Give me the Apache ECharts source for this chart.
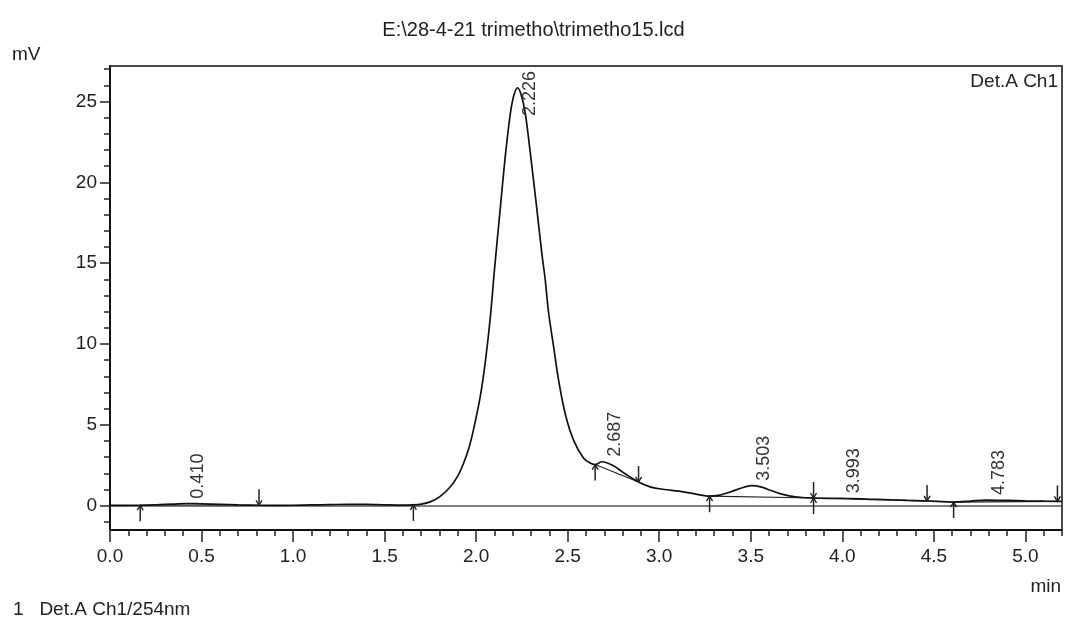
<!DOCTYPE html>
<html>
<head>
<meta charset="utf-8">
<title>trimetho15 chromatogram</title>
<script src="https://cdn.jsdelivr.net/npm/echarts@6/dist/echarts.min.js"></script>
<style>
  html, body { margin: 0; padding: 0; background: #ffffff; }
  #chart { width: 1067px; height: 620px; }
</style>
</head>
<body>
<div id="chart"></div>
<script>
// Detector trace: retention time (min) and signal (mV)
const retentionTime = [
  0.00, 0.10, 0.165, 0.25, 0.35, 0.41, 0.50, 0.60, 0.70, 0.814,
  0.90, 1.00, 1.10, 1.20, 1.30, 1.40, 1.50, 1.60, 1.657, 1.70,
  1.749, 1.80, 1.858, 1.90, 1.931, 1.96, 1.985, 2.022, 2.049, 2.077,
  2.10, 2.131, 2.158, 2.186, 2.205, 2.226, 2.245, 2.268, 2.295, 2.328,
  2.359, 2.377, 2.395, 2.423, 2.45, 2.486, 2.532, 2.586, 2.62, 2.65,
  2.687, 2.75, 2.80, 2.887, 2.95, 3.00, 3.133, 3.20, 3.275, 3.33,
  3.39, 3.45, 3.503, 3.56, 3.607, 3.66, 3.716, 3.78, 3.843, 3.93,
  3.993, 4.044, 4.15, 4.226, 4.35, 4.463, 4.608, 4.70, 4.783, 4.90,
  5.00, 5.10, 5.175, 5.20
];
const signalMv = [
  0.02, 0.02, 0.03, 0.06, 0.10, 0.13, 0.12, 0.09, 0.06, 0.03,
  0.02, 0.03, 0.05, 0.07, 0.09, 0.09, 0.06, 0.04, 0.05, 0.10,
  0.24, 0.55, 1.16, 1.85, 2.61, 3.55, 4.68, 6.74, 8.81, 11.6,
  14.6, 18.3, 21.5, 24.2, 25.35, 25.85, 25.45, 24.3, 21.9, 18.7,
  15.6, 14.0, 12.0, 9.84, 7.78, 5.71, 4.06, 2.95, 2.66, 2.55,
  2.72, 2.48, 2.08, 1.47, 1.17, 1.05, 0.86, 0.72, 0.59, 0.66,
  0.86, 1.10, 1.24, 1.15, 0.96, 0.75, 0.59, 0.51, 0.48, 0.46,
  0.46, 0.44, 0.40, 0.38, 0.33, 0.30, 0.23, 0.29, 0.35, 0.33,
  0.30, 0.28, 0.27, 0.27
];

// Integration results
const peakTimes = [0.410, 2.226, 2.687, 3.503, 3.993, 4.783];
const peakStartTimes = [0.165, 1.657, 2.65, 3.275, 3.843, 4.608];
const peakEndTimes = [0.814, 2.887, 3.843, 4.463, 5.175];
const baselineSegments = [
  [0.165, 0.814],
  [2.65, 2.887],
  [3.275, 3.843],
  [3.843, 4.463],
  [4.608, 5.175]
];

// Axis tick labels
const xTickLabels = ['0.0', '0.5', '1.0', '1.5', '2.0', '2.5', '3.0', '3.5', '4.0', '4.5', '5.0'];
const yTickLabels = ['0', '5', '10', '15', '20', '25'];

const FONT = "'Liberation Sans', Arial, Helvetica, sans-serif";
const INK = '#222222';

function signalAt(t) {
  for (let i = 0; i < retentionTime.length; i++) {
    if (Math.abs(retentionTime[i] - t) < 1e-6) return signalMv[i];
  }
  for (let i = 1; i < retentionTime.length; i++) {
    if (retentionTime[i] >= t) {
      const t0 = retentionTime[i - 1], t1 = retentionTime[i];
      const f = (t - t0) / (t1 - t0);
      return signalMv[i - 1] + f * (signalMv[i] - signalMv[i - 1]);
    }
  }
  return signalMv[signalMv.length - 1];
}

const trace = retentionTime.map((t, i) => [t, signalMv[i]]);
const arrowData = peakStartTimes.map(t => [t, signalAt(t), 1])
  .concat(peakEndTimes.map(t => [t, signalAt(t), -1]));
const baselineData = baselineSegments.map(s => [s[0], signalAt(s[0]), s[1], signalAt(s[1])]);
const peakLabelData = peakTimes.map(t => [t, signalAt(t)]);

const xMajor = xTickLabels.map(Number);
const yMajor = yTickLabels.map(Number);
const xMinor = [];
for (let k = 0; k <= 52; k++) xMinor.push(k / 10);
const yMinor = [];
for (let k = -1; k <= 27; k++) yMinor.push(k);

const measureCtx = document.createElement('canvas').getContext('2d');
const LABEL_FONT_SIZE = 18;
measureCtx.font = LABEL_FONT_SIZE + 'px ' + FONT;

const chart = echarts.init(document.getElementById('chart'), null, { renderer: 'canvas' });

const axisTextStyle = { color: INK, fontSize: 19, fontFamily: FONT };
const headText = { color: INK, fontSize: 19, fontWeight: 'normal', fontFamily: FONT };

chart.setOption({
  animation: false,
  backgroundColor: '#ffffff',
  title: [
    { text: 'E:\\28-4-21 trimetho\\trimetho15.lcd', left: 'center', top: 15,
      textStyle: Object.assign({}, headText, { fontSize: 20 }) },
    { text: 'mV', left: 7, top: 40, textStyle: headText },
    { text: 'Det.A Ch1', right: 4, top: 67, textStyle: headText },
    { text: 'min', right: 1, top: 572, textStyle: headText },
    { text: '1   Det.A Ch1/254nm', left: 8, top: 595, textStyle: headText }
  ],
  grid: {
    left: 110, right: 5, top: 66, bottom: 90,
    show: true, borderColor: '#4a4a4a', borderWidth: 2, backgroundColor: 'transparent',
    outerBoundsMode: 'none'
  },
  xAxis: [
    {
      type: 'value', min: 0, max: 5.2, position: 'bottom',
      axisLine: { show: true, onZero: false, lineStyle: { color: '#111', width: 2 } },
      axisTick: { show: true, customValues: xMajor, length: 12, lineStyle: { color: '#222', width: 1.5 } },
      axisLabel: { show: true, customValues: xMajor, margin: 17, formatter: v => v.toFixed(1), ...axisTextStyle },
      splitLine: { show: false }
    },
    {
      type: 'value', min: 0, max: 5.2, position: 'bottom',
      axisLine: { show: false, onZero: false },
      axisTick: { show: true, customValues: xMinor, length: 6, lineStyle: { color: '#222', width: 1.5 } },
      axisLabel: { show: false },
      splitLine: { show: false }
    }
  ],
  yAxis: [
    {
      type: 'value', min: -1.5, max: 27.2, position: 'left',
      axisLine: { show: true, onZero: false, lineStyle: { color: '#111', width: 2 } },
      axisTick: { show: true, customValues: yMajor, length: 10, lineStyle: { color: '#222', width: 1.5 } },
      axisLabel: { show: true, customValues: yMajor, margin: 13, formatter: v => String(v), ...axisTextStyle },
      splitLine: { show: false }
    },
    {
      type: 'value', min: -1.5, max: 27.2, position: 'left',
      axisLine: { show: false, onZero: false },
      axisTick: { show: true, customValues: yMinor, length: 6, lineStyle: { color: '#222', width: 1.5 } },
      axisLabel: { show: false },
      splitLine: { show: false }
    }
  ],
  series: [
    {
      name: 'Det.A Ch1',
      type: 'line',
      xAxisIndex: 0, yAxisIndex: 0,
      data: trace,
      showSymbol: false,
      symbol: 'none',
      smooth: 0.3,
      lineStyle: { color: '#111', width: 1.7 },
      silent: true,
      z: 5,
      markLine: {
        silent: true,
        symbol: ['none', 'none'],
        label: { show: false },
        lineStyle: { color: '#555', width: 1.5, type: 'solid' },
        data: [{ yAxis: 0 }]
      }
    },
    {
      name: 'baselines',
      type: 'custom',
      xAxisIndex: 0, yAxisIndex: 0,
      data: baselineData,
      silent: true,
      z: 4,
      renderItem: function (params, api) {
        const a = api.coord([api.value(0), api.value(1)]);
        const b = api.coord([api.value(2), api.value(3)]);
        return {
          type: 'line',
          shape: { x1: a[0], y1: a[1], x2: b[0], y2: b[1] },
          style: { stroke: '#222', lineWidth: 1.2 }
        };
      }
    },
    {
      name: 'events',
      type: 'custom',
      xAxisIndex: 0, yAxisIndex: 0,
      data: arrowData,
      silent: true,
      z: 6,
      renderItem: function (params, api) {
        const p = api.coord([api.value(0), api.value(1)]);
        const dir = api.value(2);
        const tailY = p[1] + dir * 16;
        return {
          type: 'group',
          children: [
            { type: 'line', shape: { x1: p[0], y1: tailY, x2: p[0], y2: p[1] },
              style: { stroke: '#222', lineWidth: 1.5 } },
            { type: 'polyline',
              shape: { points: [[p[0] - 3, p[1] + dir * 5], [p[0], p[1]], [p[0] + 3, p[1] + dir * 5]] },
              style: { stroke: '#222', lineWidth: 1.4, fill: null } }
          ]
        };
      }
    },
    {
      name: 'peak labels',
      type: 'custom',
      xAxisIndex: 0, yAxisIndex: 0,
      data: peakLabelData,
      silent: true,
      clip: false,
      z: 7,
      renderItem: function (params, api) {
        const t = api.value(0);
        const text = t.toFixed(3);
        const p = api.coord([t, api.value(1)]);
        const len = measureCtx.measureText(text).width;
        let y = p[1] - 5;
        const topLimit = params.coordSys.y + 5;
        if (y - len < topLimit) y = topLimit + len;
        return {
          type: 'text',
          x: p[0] + 13,
          y: y,
          rotation: Math.PI / 2,
          style: {
            text: text,
            fill: '#333',
            font: LABEL_FONT_SIZE + 'px ' + FONT,
            align: 'left',
            verticalAlign: 'middle'
          }
        };
      }
    }
  ]
});
</script>
</body>
</html>
